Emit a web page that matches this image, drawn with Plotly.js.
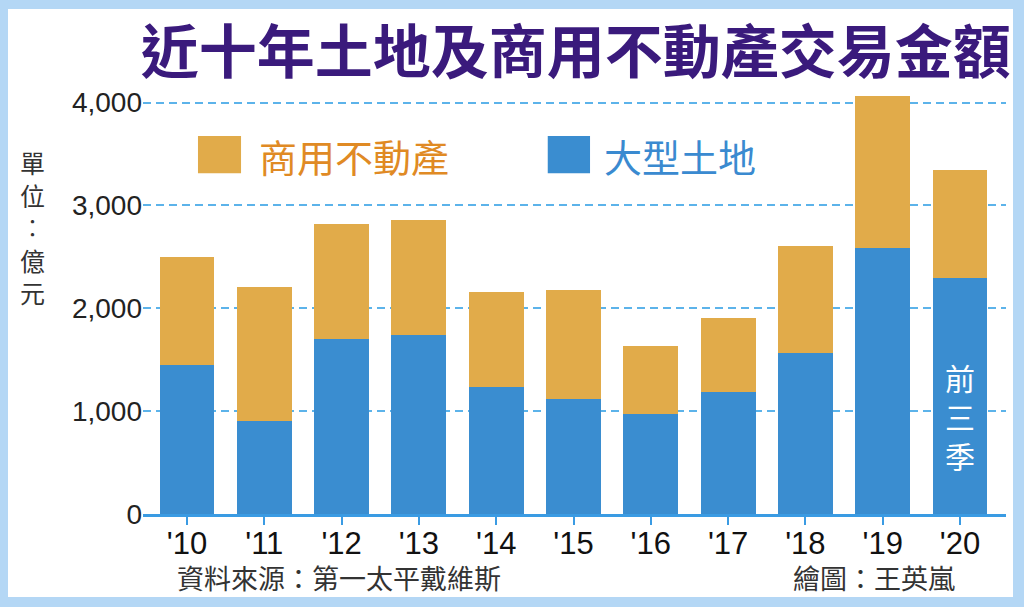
<!DOCTYPE html>
<html>
<head>
<meta charset="utf-8">
<script src="https://cdn.plot.ly/plotly-3.0.1.min.js"></script>
<style>
  html, body { margin: 0; padding: 0; background: #b4d7f5; width: 1024px; height: 607px; overflow: hidden; }
  #chart { position: absolute; left: 8px; top: 9px; width: 1005px; height: 588px; background: #fff; }
</style>
</head>
<body>
<div id="chart"></div>
<script>
const years = ["'10", "'11", "'12", "'13", "'14", "'15", "'16", "'17", "'18", "'19", "'20"];
const landValues = [1450, 900, 1700, 1745, 1230, 1115, 970, 1190, 1570, 2585, 2290];
const commercialValues = [1050, 1305, 1115, 1110, 930, 1060, 668, 715, 1035, 1480, 1055];
const seriesNames = ['商用不動產', '大型土地'];
const yTicks = [0, 1000, 2000, 3000, 4000];
const yTickText = ['0', '1,000', '2,000', '3,000', '4,000'];

const ORANGE = '#e1ab4a', BLUE = '#3a8dd0';
const CJK = '"Noto Sans CJK TC", "Noto Sans CJK SC", sans-serif';
const LAT = '"Liberation Sans", Arial, sans-serif';

const traces = [
  { x: years, y: landValues, type: 'bar', name: seriesNames[1],
    marker: { color: BLUE }, hoverinfo: 'skip' },
  { x: years, y: commercialValues, type: 'bar', name: seriesNames[0],
    marker: { color: ORANGE }, hoverinfo: 'skip' },
];

// legend drawn by hand so the swatches can be as big as in the print graphic
const swatch = (x0, x1, color) => ({ type: 'rect', xref: 'paper', yref: 'paper',
  x0: x0, x1: x1, y0: 0.789, y1: 0.875, fillcolor: color, line: { width: 0 } });
const note = (o) => Object.assign({ xref: 'paper', yref: 'paper', showarrow: false }, o);

const layout = {
  width: 1005, height: 588,
  margin: { l: 135, r: 7, t: 73, b: 83 },
  paper_bgcolor: '#ffffff', plot_bgcolor: '#ffffff',
  barmode: 'stack', bargap: 0.29,
  showlegend: false,
  title: { text: '近十年土地及商用不動產交易金額', xref: 'container', yref: 'container',
    x: 0.565, y: 0.925, xanchor: 'center', yanchor: 'middle',
    font: { family: CJK, size: 58, weight: 700, color: '#3a1a7c' } },
  xaxis: { type: 'category', range: [-0.569, 10.595], showgrid: false,
    showline: true, linecolor: '#3a9be3', linewidth: 3,
    ticks: 'outside', ticklen: 8, tickwidth: 2, tickcolor: '#3a9be3',
    ticklabelstandoff: -8,
    tickfont: { family: LAT, size: 31, color: '#111' } },
  yaxis: { range: [0, 4200], tickvals: yTicks, ticktext: yTickText,
    showgrid: true, gridcolor: '#5cb3ea', gridwidth: 2, griddash: '8px,5px',
    zeroline: false, showline: false, ticks: '',
    tickfont: { family: LAT, size: 28, color: '#222' } },
  shapes: [ swatch(0.0637, 0.1136, ORANGE), swatch(0.469, 0.518, BLUE) ],
  annotations: [
    note({ x: 0.132, y: 0.831, xanchor: 'left', yanchor: 'middle', text: seriesNames[0],
      font: { family: CJK, size: 38, color: '#e08a24' } }),
    note({ x: 0.532, y: 0.831, xanchor: 'left', yanchor: 'middle', text: seriesNames[1],
      font: { family: CJK, size: 38, color: '#3a8ad0' } }),
    note({ x: -0.1286, y: 0.86, xanchor: 'center', yanchor: 'top',
      text: '單<br>位<br>︰<br>億<br>元',
      font: { family: CJK, size: 25, color: '#333' } }),
    note({ x: 0.0371, y: -0.148, xanchor: 'left', yanchor: 'middle', text: '資料來源：第一太平戴維斯',
      font: { family: CJK, size: 27, color: '#333' } }),
    note({ x: 0.943, y: -0.148, xanchor: 'right', yanchor: 'middle', text: '繪圖：王英嵐',
      font: { family: CJK, size: 27, color: '#333' } }),
    { xref: 'x', yref: 'y', x: years[years.length - 1], y: 950, showarrow: false,
      xanchor: 'center', yanchor: 'middle', text: '前<br>三<br>季',
      font: { family: CJK, size: 30, color: '#ffffff' } },
  ],
};

Plotly.newPlot('chart', traces, layout, { staticPlot: true, displayModeBar: false });
</script>
</body>
</html>
